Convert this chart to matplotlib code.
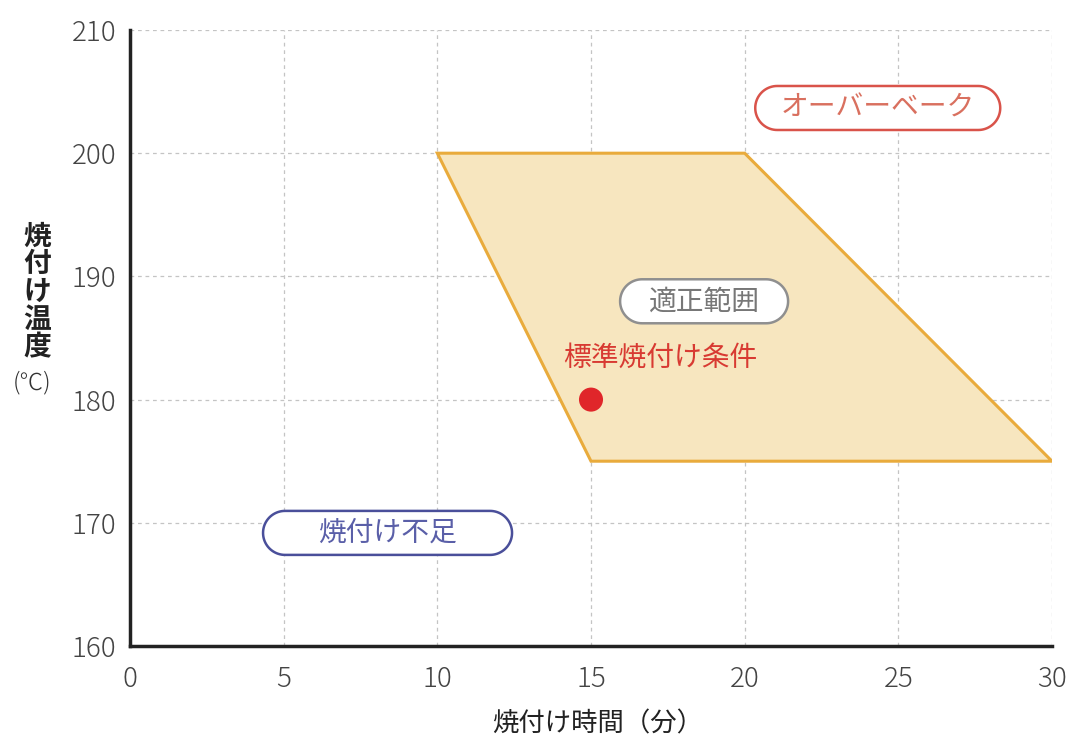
import matplotlib
matplotlib.use("Agg")
import matplotlib.pyplot as plt
import numpy as np
from matplotlib.patches import Polygon
from matplotlib.transforms import ScaledTranslation

plt.rcParams['font.family'] = ['Noto Sans CJK JP', 'DejaVu Sans']

# Data
region_x = [10, 20, 30, 15]
region_y = [200, 200, 175, 175]
std_x = [15]
std_y = [180]
xticks = [0, 5, 10, 15, 20, 25, 30]
yticks = [160, 170, 180, 190, 200, 210]
labels = ["オーバーベーク", "適正範囲", "焼付け不足"]
label_x = [24.33, 18.68, 8.38]
label_y = [203.67, 187.98, 169.18]
label_w_px = [245, 168, 249]
label_colors = ["#d9534a", "#8f8f8f", "#4a4f9a"]
text_colors = ["#d9705f", "#777777", "#5a5fa8"]
std_label = "標準焼付け条件"


def stadium(w, h, n=40):
    r = h / 2.0
    t = np.linspace(-np.pi / 2, np.pi / 2, n)
    right = np.column_stack([w / 2 - r + r * np.cos(t), r * np.sin(t)])
    left = np.column_stack([-w / 2 + r - r * np.cos(t), -r * np.sin(t)])
    return np.vstack([right, left])


fig = plt.figure(figsize=(10.72, 7.4), dpi=100)
ax = fig.add_axes([130/1072, 94/740, 922/1072, 616/740])
ax.set_xlim(0, 30)
ax.set_ylim(160, 210)
ax.set_xticks(xticks)
ax.set_yticks(yticks)
ax.grid(True, color="#c4c4c4", linestyle=(0, (3, 3)), linewidth=0.9)
ax.set_axisbelow(True)
for s in ["top", "right"]:
    ax.spines[s].set_visible(False)
for s in ["left", "bottom"]:
    ax.spines[s].set_linewidth(2.5)
    ax.spines[s].set_color("#222222")
ax.tick_params(length=0, labelsize=20, labelcolor="#444444")
ax.tick_params(axis='x', pad=14)
ax.tick_params(axis='y', pad=10)
for lab in ax.get_xticklabels() + ax.get_yticklabels():
    lab.set_fontweight("light")

poly = Polygon(list(zip(region_x, region_y)), closed=True, facecolor="#f7e6bf",
               edgecolor="#e9ab3c", linewidth=2.2, zorder=2)
ax.add_patch(poly)

ax.scatter(std_x, std_y, s=300, color="#e0262a", zorder=4, edgecolors="none")
ax.text(17.25, 183.4, std_label, color="#d83a32", fontsize=20, ha="center", va="center", zorder=5)

# pill-shaped label boxes (height 44 px), sized in inches around a data-space centre
h_in = 0.44
for t, x, y, wpx, c, tc in zip(labels, label_x, label_y, label_w_px, label_colors, text_colors):
    w_in = wpx / 100.0
    tr = fig.dpi_scale_trans + ScaledTranslation(x, y, ax.transData)
    box = Polygon(stadium(w_in, h_in), closed=True, transform=tr, facecolor="white",
                  edgecolor=c, linewidth=1.8, zorder=5)
    ax.add_patch(box)
    ax.text(x, y, t, color=tc, fontsize=20, ha="center", va="center", zorder=6)

ax.set_xlabel("焼付け時間（分）", fontsize=19, color="#222222", labelpad=10)
ax.xaxis.set_label_coords(598/1072 * 1072/922 - 130/922, -0.105)
fig.text(37/1072, 1 - 292/740, "焼\n付\nけ\n温\n度", fontsize=20, color="#222222",
         ha="center", va="center", linespacing=0.98, fontweight="bold")
fig.text(32/1072, 1 - 383/740, "(℃)", fontsize=17, color="#333333", ha="center", va="center",
         fontweight="light")

fig.savefig("out.png", dpi=100)
